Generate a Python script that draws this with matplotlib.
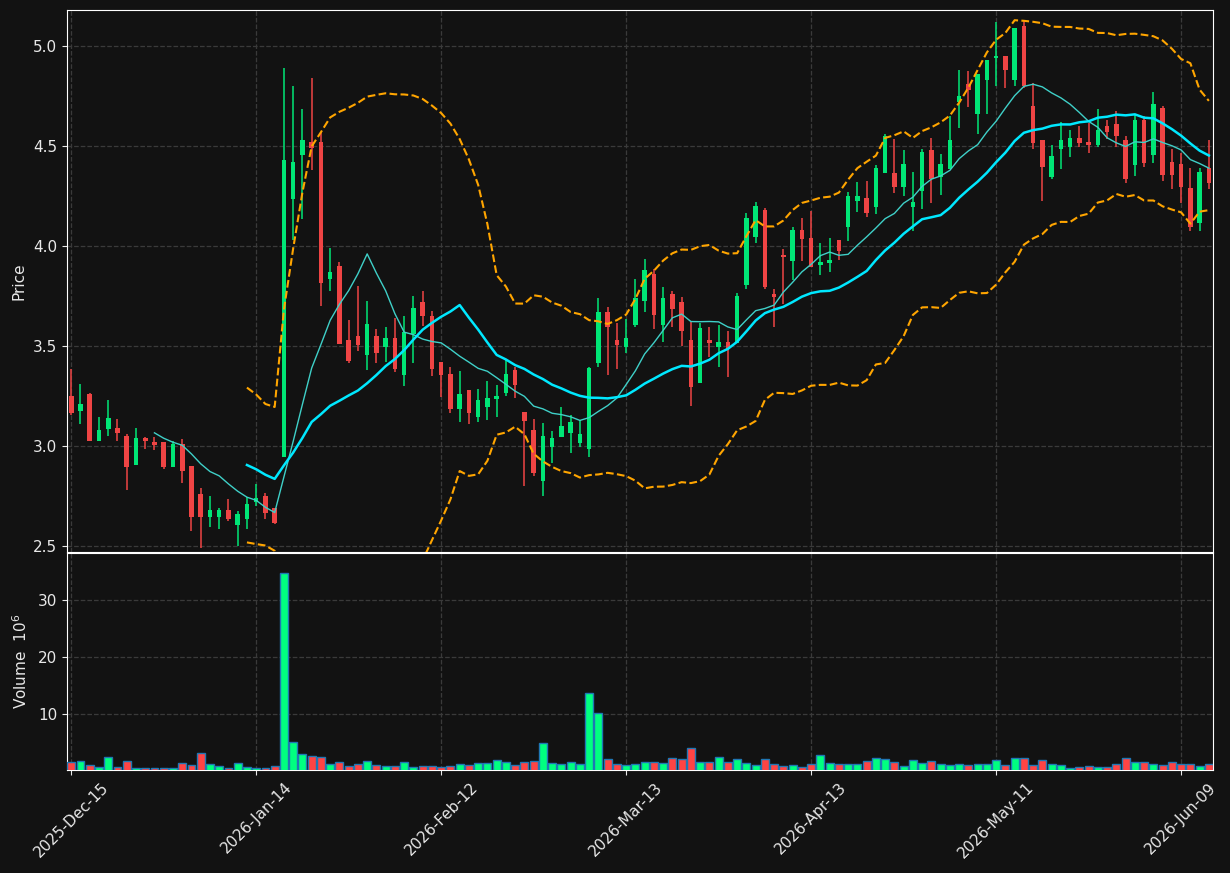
import numpy as np
import pandas as pd
import matplotlib
matplotlib.use("Agg")
import matplotlib.pyplot as plt

# ---------------- data ----------------
holidays = ['2025-12-25', '2026-01-01', '2026-01-19', '2026-02-16', '2026-04-03', '2026-05-25']
dates = pd.bdate_range('2025-12-15', '2026-06-12')
dates = dates[~dates.isin(pd.to_datetime(holidays))]

opens = [3.252, 3.178, 3.262, 3.028, 3.088, 3.090, 3.051, 2.908, 3.040, 3.021,
         3.021, 2.898, 3.011, 2.901, 2.761, 2.648, 2.648, 2.681, 2.608, 2.638,
         2.719, 2.750, 2.690, 2.947, 4.236, 4.457, 4.522, 4.522, 3.836, 3.902,
         3.529, 3.550, 3.457, 3.550, 3.495, 3.540, 3.357, 3.560, 3.719, 3.650,
         3.419, 3.361, 3.188, 3.281, 3.148, 3.198, 3.238, 3.268, 3.381, 3.171,
         3.081, 2.828, 2.998, 3.048, 3.068, 3.018, 2.988, 3.418, 3.671, 3.531,
         3.498, 3.608, 3.728, 3.861, 3.608, 3.761, 3.721, 3.531, 3.318, 3.531,
         3.498, 3.521, 3.518, 3.808, 4.048, 4.181, 3.761, 3.952, 3.928, 4.081,
         4.041, 3.908, 3.918, 4.031, 4.098, 4.228, 4.241, 4.198, 4.368, 4.365,
         4.298, 4.198, 4.278, 4.481, 4.348, 4.388, 4.718, 4.811, 4.661, 4.828,
         4.938, 4.951, 4.828, 5.101, 4.701, 4.531, 4.348, 4.488, 4.498, 4.541,
         4.521, 4.508, 4.601, 4.611, 4.531, 4.408, 4.631, 4.458, 4.691, 4.421,
         4.411, 4.291, 4.118, 4.391]
highs = [3.387, 3.310, 3.265, 3.145, 3.230, 3.135, 3.061, 3.090, 3.045, 3.045,
         3.021, 3.025, 3.038, 2.901, 2.790, 2.751, 2.690, 2.735, 2.678, 2.745,
         2.810, 2.767, 2.690, 4.891, 4.800, 4.686, 4.840, 4.571, 3.991, 3.919,
         3.629, 3.800, 3.728, 3.584, 3.595, 3.643, 3.650, 3.750, 3.778, 3.674,
         3.419, 3.398, 3.378, 3.281, 3.288, 3.325, 3.308, 3.431, 3.398, 3.171,
         3.138, 3.115, 3.078, 3.195, 3.158, 3.131, 3.398, 3.741, 3.698, 3.618,
         3.635, 3.835, 3.938, 3.888, 3.795, 3.778, 3.745, 3.621, 3.615, 3.598,
         3.605, 3.575, 3.765, 4.168, 4.221, 4.191, 3.785, 3.988, 4.098, 4.141,
         4.178, 4.018, 4.040, 4.031, 4.271, 4.320, 4.325, 4.405, 4.558, 4.538,
         4.481, 4.371, 4.485, 4.541, 4.461, 4.651, 4.878, 4.875, 4.861, 4.931,
         5.118, 4.951, 5.091, 5.130, 4.815, 4.531, 4.508, 4.618, 4.578, 4.598,
         4.615, 4.685, 4.631, 4.675, 4.551, 4.661, 4.648, 4.768, 4.701, 4.485,
         4.468, 4.391, 4.391, 4.531]
lows = [3.157, 3.110, 3.025, 3.026, 3.052, 3.026, 2.781, 2.908, 2.985, 2.980,
        2.885, 2.898, 2.815, 2.578, 2.490, 2.598, 2.585, 2.628, 2.502, 2.585,
        2.700, 2.638, 2.612, 2.947, 4.030, 4.138, 4.383, 3.703, 3.778, 3.509,
        3.417, 3.474, 3.379, 3.417, 3.422, 3.371, 3.300, 3.417, 3.602, 3.353,
        3.245, 3.165, 3.121, 3.111, 3.121, 3.131, 3.145, 3.251, 3.241, 2.802,
        2.851, 2.751, 2.915, 3.048, 2.965, 2.998, 2.948, 3.398, 3.358, 3.388,
        3.468, 3.595, 3.671, 3.585, 3.521, 3.595, 3.501, 3.201, 3.318, 3.448,
        3.398, 3.345, 3.518, 3.788, 4.015, 3.788, 3.598, 3.711, 3.831, 3.928,
        3.898, 3.855, 3.870, 3.930, 4.025, 4.173, 4.145, 4.161, 4.368, 4.268,
        4.251, 4.078, 4.188, 4.215, 4.258, 4.388, 4.588, 4.695, 4.558, 4.658,
        4.798, 4.788, 4.798, 4.790, 4.488, 4.228, 4.338, 4.385, 4.448, 4.495,
        4.468, 4.498, 4.538, 4.498, 4.318, 4.351, 4.398, 4.418, 4.325, 4.288,
        4.218, 4.078, 4.075, 4.288]
closes = [3.168, 3.212, 3.028, 3.081, 3.140, 3.068, 2.898, 3.040, 3.028, 3.008,
          2.898, 3.011, 2.878, 2.648, 2.648, 2.681, 2.681, 2.638, 2.661, 2.711,
          2.740, 2.664, 2.616, 4.431, 4.422, 4.533, 4.491, 3.816, 3.871, 3.509,
          3.426, 3.505, 3.609, 3.467, 3.540, 3.388, 3.571, 3.691, 3.650, 3.388,
          3.357, 3.188, 3.261, 3.168, 3.231, 3.241, 3.251, 3.361, 3.308, 3.128,
          2.868, 3.051, 3.041, 3.101, 3.121, 3.061, 3.391, 3.671, 3.598, 3.508,
          3.541, 3.741, 3.881, 3.658, 3.741, 3.688, 3.578, 3.298, 3.591, 3.518,
          3.521, 3.488, 3.751, 4.141, 4.201, 3.798, 3.748, 3.948, 4.081, 4.038,
          3.898, 3.921, 3.931, 3.978, 4.251, 4.251, 4.168, 4.391, 4.548, 4.298,
          4.411, 4.221, 4.471, 4.338, 4.411, 4.531, 4.751, 4.778, 4.861, 4.931,
          4.951, 4.878, 5.091, 4.802, 4.518, 4.398, 4.451, 4.531, 4.541, 4.518,
          4.508, 4.581, 4.568, 4.548, 4.338, 4.631, 4.418, 4.711, 4.358, 4.358,
          4.298, 4.098, 4.371, 4.318]
volumes = [1.58, 1.75, 1.05, 0.70, 2.46, 0.70, 1.75, 0.47, 0.47, 0.47,
           0.47, 0.47, 1.40, 1.05, 3.16, 1.23, 0.88, 0.53, 1.40, 0.70,
           0.47, 0.47, 0.82, 34.74, 5.09, 2.98, 2.63, 2.46, 1.23, 1.58,
           0.88, 1.23, 1.75, 1.05, 0.88, 0.88, 1.58, 0.70, 0.88, 0.88,
           0.70, 0.88, 1.23, 1.05, 1.40, 1.40, 1.93, 1.58, 1.05, 1.58,
           1.75, 4.91, 1.40, 1.23, 1.58, 1.23, 13.68, 10.18, 2.11, 1.23,
           1.05, 1.23, 1.58, 1.58, 1.40, 2.28, 2.11, 4.04, 1.58, 1.58,
           2.46, 1.58, 2.11, 1.40, 1.05, 2.11, 1.23, 0.88, 1.05, 0.70,
           1.23, 2.81, 1.40, 1.23, 1.23, 1.23, 1.75, 2.28, 2.11, 1.58,
           0.88, 1.93, 1.40, 1.75, 1.23, 1.05, 1.23, 1.05, 1.23, 1.23,
           1.93, 1.05, 2.28, 2.28, 1.05, 1.93, 1.23, 1.05, 0.53, 0.70,
           0.88, 0.70, 0.70, 1.23, 2.28, 1.58, 1.58, 1.23, 1.05, 1.58,
           1.23, 1.23, 0.88, 1.23]

df = pd.DataFrame({'Open': opens, 'High': highs, 'Low': lows, 'Close': closes,
                   'Volume': volumes}, index=dates)

# ---------------- style ----------------
bg = '#121212'
txt = '#e8e8e8'
up_c, dn_c = '#00e676', '#ef4444'
vup_c, vdn_c = '#00ff80', '#ff4444'
grid_kw = dict(color='#3a3a3a', linestyle='--', linewidth=0.9)

x = np.arange(len(df))
up = df['Close'] >= df['Open']

ma10 = df['Close'].rolling(10).mean()
ma20 = df['Close'].rolling(20).mean()
sd20 = df['Close'].rolling(20).std(ddof=0)
bb_up = ma20 + 2 * sd20
bb_dn = ma20 - 2 * sd20

fig = plt.figure(figsize=(12.3, 8.73), dpi=100, facecolor=bg)
ax = fig.add_axes([0.0545, 0.3677, 0.9317, 0.6208])
axv = fig.add_axes([0.0545, 0.1180, 0.9317, 0.2486], sharex=ax)

for a in (ax, axv):
    a.set_facecolor(bg)
    for s in a.spines.values():
        s.set_color('white')
    a.tick_params(colors=txt, labelsize=11)
    a.grid(True, **grid_kw)
    a.set_axisbelow(True)

# candles
body_lo = np.minimum(df['Open'], df['Close'])
body_h = np.maximum(np.abs(df['Close'] - df['Open']), 0.006)
cols = np.where(up, up_c, dn_c)
ax.vlines(x, df['Low'], df['High'], colors=cols, linewidth=1.1, zorder=2)
ax.bar(x, body_h, bottom=body_lo, width=0.5, color=cols, linewidth=0, zorder=3)

# moving averages and bands
ax.plot(x, ma10, color='#3fd0c8', linewidth=1.0, zorder=4)
ax.plot(x, ma20, color='#00e8ff', linewidth=1.8, zorder=4)
ax.plot(x, bb_up, color='#ffa500', linewidth=1.5, linestyle='--', zorder=4)
ax.plot(x, bb_dn, color='#ffa500', linewidth=1.5, linestyle='--', zorder=4)

ax.set_ylim(2.4715, 5.18)
ax.set_yticks([2.5, 3.0, 3.5, 4.0, 4.5, 5.0])
ax.set_ylabel('Price', color=txt, fontsize=11)
ax.yaxis.set_label_coords(-0.035, 0.5)
ax.tick_params(axis='x', which='both', bottom=False, labelbottom=False)

# volume
vcols = np.where(up, vup_c, vdn_c)
axv.bar(x, df['Volume'], width=0.85, color=vcols, edgecolor='#1f77b4', linewidth=1.0, zorder=3)
axv.set_ylim(0.2, 38.2)
axv.set_yticks([10, 20, 30])
axv.set_ylabel('Volume  $10^{6}$', color=txt, fontsize=11)
axv.yaxis.set_label_coords(-0.032, 0.5)

ticks = list(range(0, len(df), 20))
axv.set_xticks(ticks)
axv.set_xticklabels([dates[t].strftime('%Y-%b-%d') for t in ticks],
                    rotation=45, ha='center')
axv.set_xlim(-0.45, len(df) - 1 + 0.45)

fig.savefig('out.png', dpi=100, facecolor=bg)
